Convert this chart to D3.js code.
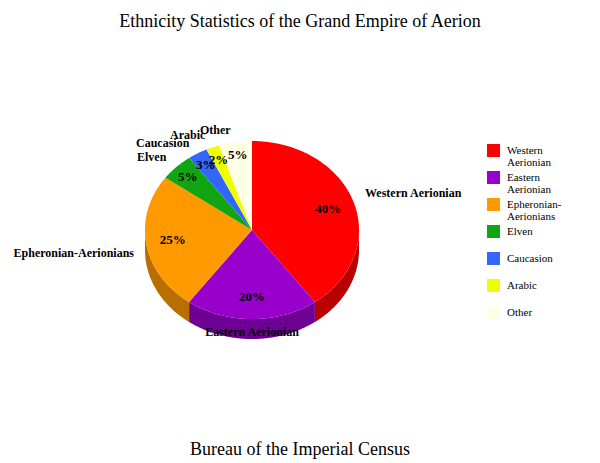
<!DOCTYPE html><html><head><meta charset="utf-8"><script src="https://cdn.jsdelivr.net/npm/d3@7"></script>
<style>body{margin:0;background:#fff}text{font-family:"Liberation Serif","Times New Roman",serif}</style></head><body>
<svg id="c" width="600" height="463"></svg>
<script>
const categories=["Western Aerionian","Eastern Aerionian","Epheronian-Aerionians","Elven","Caucasion","Arabic","Other"];
const values=[40,20,25,5,3,2,5];
const legendLines=[["Western","Aerionian"],["Eastern","Aerionian"],["Epheronian-","Aerionians"],["Elven"],["Caucasion"],["Arabic"],["Other"]];
const colors=["#ff0000","#9900cc","#ff9900","#11a611","#3366ff","#eeff00","#ffffe6"];
const labelPos=[[365,197,"start"],[252,336,"middle"],[134,257,"end"],[137,161,"start"],[136,147,"start"],[170,139,"start"],[200,134,"start"]];

const svg=d3.select("#c");
const cx=252,cy=230,rx=107,ry=89,depth=20;
const pie=d3.pie().sort(null).value(d=>d)(values);
const P=(a,dy=0,k=1)=>[cx+rx*k*Math.sin(a),cy-ry*k*Math.cos(a)+dy];
const line=d3.line();
function arcPts(a0,a1,dy){const n=Math.max(2,Math.ceil((a1-a0)/0.02));return d3.range(n+1).map(i=>P(a0+(a1-a0)*i/n,dy));}
pie.forEach((d,i)=>{
  const a0=Math.max(d.startAngle,Math.PI/2),a1=Math.min(d.endAngle,3*Math.PI/2);
  if(a1<=a0)return;
  const top=arcPts(a0,a1,0),bot=arcPts(a0,a1,depth).reverse();
  svg.append("path").attr("d",line(top.concat(bot))+"Z").attr("fill",d3.color(colors[i]).darker(0.9));
});
pie.forEach((d,i)=>{
  svg.append("path").attr("d",line([[cx,cy]].concat(arcPts(d.startAngle,d.endAngle,0)))+"Z").attr("fill",colors[i]);
});
pie.forEach((d,i)=>{
  const m=(d.startAngle+d.endAngle)/2;
  let k=i<3?0.75:0.85;
  const p=P(m,0,k);
  svg.append("text").attr("x",p[0]).attr("y",p[1]+4).attr("text-anchor","middle").attr("font-size",13).attr("font-weight","bold").text(values[i]+"%");
});
categories.forEach((c,i)=>{
  const [x,y,a]=labelPos[i];
  svg.append("text").attr("x",x).attr("y",y).attr("text-anchor",a).attr("font-size",12).attr("font-weight","bold").text(c);
});
const lg=svg.append("g");
categories.forEach((c,i)=>{
  const y=144+i*27;
  lg.append("rect").attr("x",487).attr("y",y).attr("width",13).attr("height",13).attr("fill",colors[i]);
  legendLines[i].forEach((t,j)=>lg.append("text").attr("x",507).attr("y",y+10+j*12).attr("font-size",11).text(t));
});
svg.append("text").attr("x",300).attr("y",27).attr("text-anchor","middle").attr("font-size",18).text("Ethnicity Statistics of the Grand Empire of Aerion");
svg.append("text").attr("x",300).attr("y",455).attr("text-anchor","middle").attr("font-size",18).text("Bureau of the Imperial Census");
</script></body></html>
